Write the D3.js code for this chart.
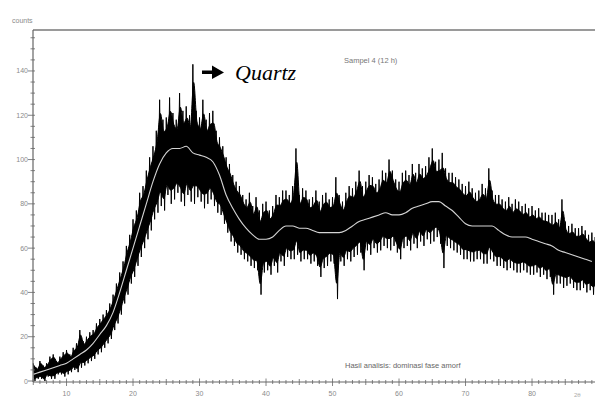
<!DOCTYPE html>
<html><head><meta charset="utf-8">
<script src="https://cdn.jsdelivr.net/npm/d3@7"></script>
<style>
html,body{margin:0;padding:0;background:#fff;}
svg{display:block;}
</style></head>
<body>
<svg id="chart" width="595" height="400"></svg>
<script>
// Scan: start angle and step (deg 2-theta) of the binned raw trace
const scanStart = 5;
const scanStep = 0.5;
// Upper and lower edge of the raw (noisy) trace in each 0.5° bin
const countsHigh = [
  8,6, 9,7, 8,11, 12,9, 11,13, 14,12, 15,17, 23,18, 20,22, 23,26,
  28,30, 32,35, 39,44, 49,54, 61,66, 73,77, 85,88, 95,101, 106,113, 127,118,
  119,128, 121,118, 130,122, 124,120, 143,122, 119,127, 118,121, 122,113, 110,106, 101,98,
  93,90, 88,84, 82,85, 79,83, 77,80, 81,77, 79,84, 83,86, 86,84, 88,105,
  84,87, 86,82, 83,86, 81,84, 85,82, 83,92, 84,81, 85,88, 87,90, 95,88,
  90,93, 92,89, 91,95, 94,100, 95,91, 90,94, 95,93, 98,94, 98,96, 97,101,
  105,99, 100,103, 96,94, 94,92, 91,89, 88,90, 87,85, 86,89, 87,96, 86,84,
  84,82, 81,83, 80,82, 81,79, 80,78, 79,77, 78,76, 76,75, 75,76, 73,82,
  72,70, 71,69, 69,70, 68,66, 67,65
];
const countsLow = [
  0,1, 1,0, 2,1, 1,3, 3,2, 3,4, 5,4, 6,7, 8,9, 10,12,
  13,15, 17,19, 23,26, 30,35, 39,44, 47,52, 56,60, 64,68, 73,76, 79,77,
  84,80, 82,85, 81,79, 84,81, 80,83, 81,78, 80,82, 79,76, 75,71, 67,63,
  61,58, 57,55, 54,52, 51,50, 39,49, 50,48, 52,49, 54,52, 56,55, 55,57,
  54,55, 55,53, 54,52, 47,51, 52,54, 53,37, 54,52, 55,54, 56,57, 58,50,
  59,57, 60,58, 59,61, 60,59, 61,58, 55,60, 61,59, 62,60, 63,61, 64,62,
  63,65, 62,51, 61,60, 59,58, 57,55, 55,54, 54,55, 55,53, 53,55, 54,52,
  52,51, 50,51, 50,49, 49,50, 49,48, 48,49, 47,48, 46,47, 39,44, 44,42,
  43,44, 42,41, 41,42, 40,41, 39,40
];
// Smoothed curve (white line), one value per degree
const smoothAngles = [5,6,7,8,9,10,11,12,13,14,15,16,17,18,19,20,21,22,23,24,25,26,27,28,29,30,31,32,33,34,35,36,37,38,39,40,41,42,43,44,45,46,47,48,49,50,51,52,53,54,55,56,57,58,59,60,61,62,63,64,65,66,67,68,69,70,71,72,73,74,75,76,77,78,79,80,81,82,83,84,85,86,87,88,89];
const smoothCounts = [3,4,5,6,7,8,10,12,14,17,21,25,31,40,50,60,70,80,90,98,103,105,105,106,103,102,101,99,93,84,78,73,69,66,64,64,65,68,70,70,69,69,68,67,67,67,67,68,70,72,73,74,75,76,75,75,76,78,79,80,81,81,79,77,74,71,70,70,70,70,68,66,65,65,65,64,63,62,61,59,58,57,56,55,54];
// Axis ticks and labels
const xTickLabels = [10,20,30,40,50,60,70,80];
const yTickLabels = [0,20,40,60,80,100,120,140];
const yAxisTitle = "counts";
const xAxisTitle = "2θ";
const sampleLabel = "Sampel 4 (12 h)";
const peakLabel = "Quartz";
const noteLabel = "Hasil analisis: dominasi fase amorf";

const sans = "'Liberation Sans',Arial,sans-serif";
const svg = d3.select("#chart");
const x = d3.scaleLinear().domain([4.96, 89.47]).range([33, 595]);
const y = d3.scaleLinear().domain([0, 158.5]).range([381, 30]);

// raw trace: zigzag between bin top and bottom
const raw = [];
countsHigh.forEach((h, i) => {
  const a = scanStart + i * scanStep;
  raw.push([a, h]);
  raw.push([a + scanStep / 2, countsLow[i]]);
});
// dense core of the trace (the part filled solid black)
const core = countsHigh.map((h, i) => {
  const lo = countsLow[i], mid = (h + lo) / 2, half = (h - lo) / 2;
  return { a: scanStart + i * scanStep + scanStep / 4, y0: mid - half * 0.74, y1: mid + half * 0.74 };
});

const gray = "#8a8a8a";
// frame: top line
svg.append("line").attr("x1", 33).attr("x2", 595).attr("y1", 30).attr("y2", 30)
  .attr("stroke", "#9a9a9a").attr("stroke-width", 1.8);

// core fill
svg.append("path").datum(core)
  .attr("fill", "#000").attr("stroke", "#000").attr("stroke-width", 1)
  .attr("d", d3.area().curve(d3.curveMonotoneX).x(d => x(d.a)).y0(d => y(d.y0)).y1(d => y(d.y1)));

// raw trace
svg.append("path").datum(raw)
  .attr("fill", "none").attr("stroke", "#000").attr("stroke-width", 1)
  .attr("stroke-linejoin", "miter").attr("stroke-miterlimit", 3)
  .attr("d", d3.line().x(d => x(d[0])).y(d => y(d[1])));

// smooth line
svg.append("path").datum(smoothAngles.map((a, i) => [a, smoothCounts[i]]))
  .attr("fill", "none").attr("stroke", "#d4d4d4").attr("stroke-width", 1.1)
  .attr("d", d3.line().curve(d3.curveMonotoneX).x(d => x(d[0])).y(d => y(d[1])));

// left axis
const yAxis = svg.append("g");
yAxis.append("line").attr("x1", 33).attr("x2", 33).attr("y1", 30).attr("y2", 382)
  .attr("stroke", "#666").attr("stroke-width", 1.2);
yAxis.selectAll("line.minor").data(d3.range(0, 158, 5)).join("line")
  .attr("class", "minor")
  .attr("x1", d => d % 20 === 0 ? 28 : 30.5).attr("x2", 35)
  .attr("y1", d => y(d)).attr("y2", d => y(d))
  .attr("stroke", "#666").attr("stroke-width", 0.8);
yAxis.selectAll("text").data(yTickLabels).join("text")
  .attr("x", 28).attr("y", d => y(d) + 2.5).attr("text-anchor", "end")
  .style("font-family", sans).style("font-size", "7px").attr("fill", gray).text(d => d);

// bottom axis
const xAxis = svg.append("g");
xAxis.append("line").attr("x1", 33).attr("x2", 595).attr("y1", 382).attr("y2", 382)
  .attr("stroke", "#666").attr("stroke-width", 1.2);
xAxis.selectAll("line.minor").data(d3.range(5, 90, 1)).join("line")
  .attr("class", "minor")
  .attr("x1", d => x(d)).attr("x2", d => x(d))
  .attr("y1", d => d % 10 === 0 ? 378.5 : (d % 5 === 0 ? 379 : 380))
  .attr("y2", d => d % 10 === 0 ? 386 : (d % 5 === 0 ? 385 : 384))
  .attr("stroke", "#666").attr("stroke-width", 0.8);
xAxis.selectAll("text").data(xTickLabels).join("text")
  .attr("x", d => x(d)).attr("y", 395.5).attr("text-anchor", "middle")
  .style("font-family", sans).style("font-size", "7px").attr("fill", gray).text(d => d);

// titles
svg.append("text").attr("x", 12).attr("y", 23).style("font-family", sans).style("font-size", "7px").attr("fill", gray).text(yAxisTitle);
svg.append("text").attr("x", 574).attr("y", 397).style("font-family", sans).style("font-size", "6px").attr("fill", "#aaa").text(xAxisTitle);
svg.append("text").attr("x", 344).attr("y", 63).style("font-family", sans).style("font-size", "7.5px").attr("fill", "#777").text(sampleLabel);
svg.append("text").attr("x", 345).attr("y", 368).style("font-family", sans).style("font-size", "7.5px").attr("fill", "#666").text(noteLabel);

// Quartz annotation
svg.append("path")
  .attr("d", "M202,70.5 L212,70.5 L212,65.5 L224,72.5 L212,79 L212,74 L202,74 Z")
  .attr("fill", "#000");
svg.append("text").attr("x", 235).attr("y", 80)
  .style("font-family", "'Liberation Serif','Times New Roman',serif")
  .style("font-style", "italic").style("font-size", "22px").attr("fill", "#000").text(peakLabel);
</script>
</body></html>
